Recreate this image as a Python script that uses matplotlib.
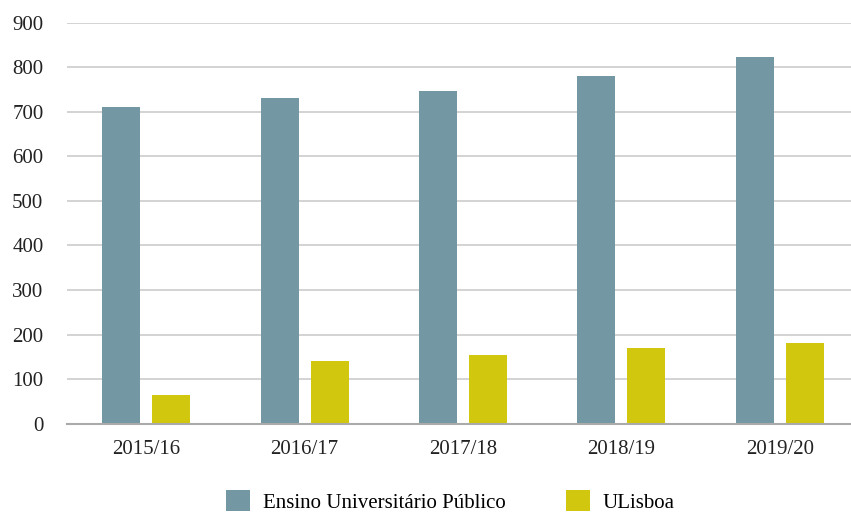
import matplotlib.pyplot as plt
import numpy as np

years = ["2015/16", "2016/17", "2017/18", "2018/19", "2019/20"]
publico = [711, 731, 747, 780, 823]
ulisboa = [64, 141, 154, 170, 181]

plt.rcParams["font.family"] = ["Liberation Serif", "DejaVu Serif"]

fig = plt.figure(figsize=(8.51, 5.15), dpi=100)
ax = fig.add_axes([67 / 851, 1 - 423.7 / 515, 1 - 67 / 851, (423.7 - 22.7) / 515])

x = np.arange(len(years))
width = 0.24
off = 0.158

ax.bar(x - off, publico, width, color="#7498a3", label="Ensino Universitário Público", zorder=3)
ax.bar(x + off, ulisboa, width, color="#d0c70e", label="ULisboa", zorder=3)

ax.set_xlim(-0.5, 4.45)
ax.set_ylim(0, 900)
ax.set_yticks(range(0, 901, 100))
ax.set_xticks(x, years)

# grid
ax.grid(axis="y", color="#cccccc", linewidth=1.2, zorder=0)
ax.set_axisbelow(True)

for s in ["top", "right", "left"]:
    ax.spines[s].set_visible(False)
ax.spines["bottom"].set_color("#aaaaaa")
ax.spines["bottom"].set_linewidth(1.5)
ax.spines["bottom"].set_zorder(4)

ax.tick_params(axis="both", length=0, labelsize=15, colors="#222222")
ax.tick_params(axis="y", pad=17)
ax.tick_params(axis="x", pad=12)

# legend
fig.legend(loc="center", bbox_to_anchor=(0.529, 0.026), ncol=2, frameon=False,
           fontsize=15, handlelength=1.15, handleheight=1.15, columnspacing=2.9,
           handletextpad=0.6)

fig.savefig("out.png", dpi=100)
